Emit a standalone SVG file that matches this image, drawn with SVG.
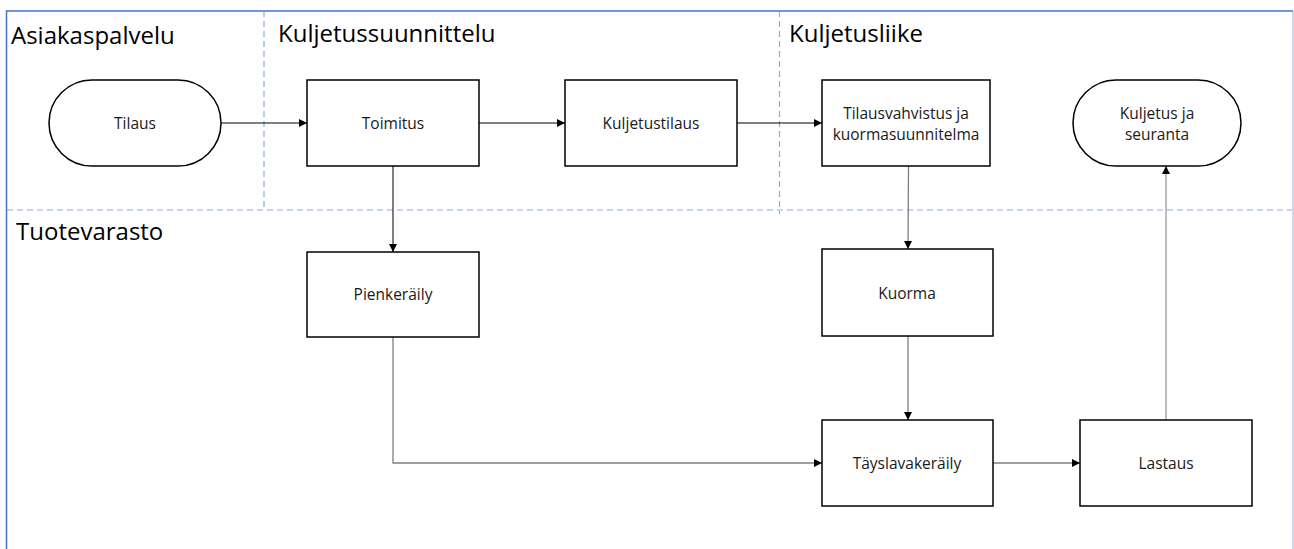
<svg xmlns="http://www.w3.org/2000/svg" width="1294" height="549" viewBox="0 0 1294 549">
  <style>
    .lane-title { font-family: "Open Sans", "Noto Sans", sans-serif; font-size: 24px; fill: #000; }
    .label { font-family: "Open Sans", "Noto Sans", sans-serif; font-size: 15.5px; fill: #1a1a1a; text-anchor: middle; }
    .box { fill: #fff; stroke: #000; stroke-width: 1.5; }
    .divider { stroke: #8eaadb; stroke-width: 1.2; stroke-dasharray: 6 4; fill: none; }
    .edge { fill: none; stroke: #000; stroke-width: 1; }
    .edge-gray { fill: none; stroke: #7f7f7f; stroke-width: 1.3; }
    .edge-light { fill: none; stroke: #a6a6a6; stroke-width: 1.5; }
  </style>
  <defs>
    <marker id="arrow" viewBox="0 0 10 10" refX="10" refY="5" markerUnits="userSpaceOnUse" markerWidth="9" markerHeight="8" orient="auto">
      <path d="M0,0 L10,5 L0,10 Z" fill="#000"/>
    </marker>
  </defs>

  <rect width="1294" height="549" fill="#fff"/>

  <!-- swimlane frame -->
  <g id="lanes">
    <path d="M6.5,560 V11 H1293" fill="none" stroke="#4472c4" stroke-width="1.5"/>
    <line x1="1293" y1="11" x2="1293" y2="560" stroke="#9fb0cc" stroke-width="1"/>
    <line class="divider" x1="264" y1="11" x2="264" y2="211"/>
    <line class="divider" x1="779.5" y1="11" x2="779.5" y2="214"/>
    <line class="divider" x1="7" y1="210" x2="1292" y2="210"/>
    <text class="lane-title" x="11" y="44">Asiakaspalvelu</text>
    <text class="lane-title" x="278" y="42">Kuljetussuunnittelu</text>
    <text class="lane-title" x="789" y="42">Kuljetusliike</text>
    <text class="lane-title" x="16" y="240">Tuotevarasto</text>
  </g>

  <!-- connectors -->
  <g id="connectors">
    <line class="edge" x1="221" y1="123" x2="307" y2="123" marker-end="url(#arrow)"/>
    <line class="edge" x1="479" y1="123" x2="565" y2="123" marker-end="url(#arrow)"/>
    <line class="edge" x1="737" y1="123" x2="822" y2="123" marker-end="url(#arrow)"/>
    <line class="edge" x1="393" y1="166" x2="393" y2="252" marker-end="url(#arrow)"/>
    <polyline class="edge-gray" points="393,337 393,463 822,463" marker-end="url(#arrow)"/>
    <line class="edge-gray" x1="908.5" y1="166" x2="908" y2="249" marker-end="url(#arrow)"/>
    <line class="edge-gray" x1="908" y1="336" x2="908" y2="420" marker-end="url(#arrow)"/>
    <line class="edge-gray" x1="993" y1="463" x2="1080" y2="463" marker-end="url(#arrow)"/>
    <line class="edge-light" x1="1166" y1="420" x2="1166" y2="166" marker-end="url(#arrow)"/>
  </g>

  <!-- nodes -->
  <g id="tilaus">
    <rect class="box" x="49" y="80" width="172" height="86" rx="43" ry="43"/>
    <text class="label" x="135" y="129">Tilaus</text>
  </g>
  <g id="toimitus">
    <rect class="box" x="307" y="80" width="172" height="86"/>
    <text class="label" x="393" y="129">Toimitus</text>
  </g>
  <g id="kuljetustilaus">
    <rect class="box" x="565" y="80" width="172" height="86"/>
    <text class="label" x="651" y="129">Kuljetustilaus</text>
  </g>
  <g id="tilausvahvistus">
    <rect class="box" x="822" y="80" width="168" height="86"/>
    <text class="label" x="906" y="119">Tilausvahvistus ja</text>
    <text class="label" x="906" y="140">kuormasuunnitelma</text>
  </g>
  <g id="kuljetus-seuranta">
    <rect class="box" x="1073" y="80" width="168" height="86" rx="43" ry="43"/>
    <text class="label" x="1157" y="119">Kuljetus ja</text>
    <text class="label" x="1157" y="140">seuranta</text>
  </g>
  <g id="pienkeraily">
    <rect class="box" x="307" y="252" width="172" height="85"/>
    <text class="label" x="393" y="300">Pienkeräily</text>
  </g>
  <g id="kuorma">
    <rect class="box" x="822" y="249" width="171" height="87"/>
    <text class="label" x="907" y="299">Kuorma</text>
  </g>
  <g id="tayslavakeraily">
    <rect class="box" x="822" y="420" width="171" height="86"/>
    <text class="label" x="907" y="469">Täyslavakeräily</text>
  </g>
  <g id="lastaus">
    <rect class="box" x="1080" y="420" width="172" height="86"/>
    <text class="label" x="1166" y="469">Lastaus</text>
  </g>
</svg>
